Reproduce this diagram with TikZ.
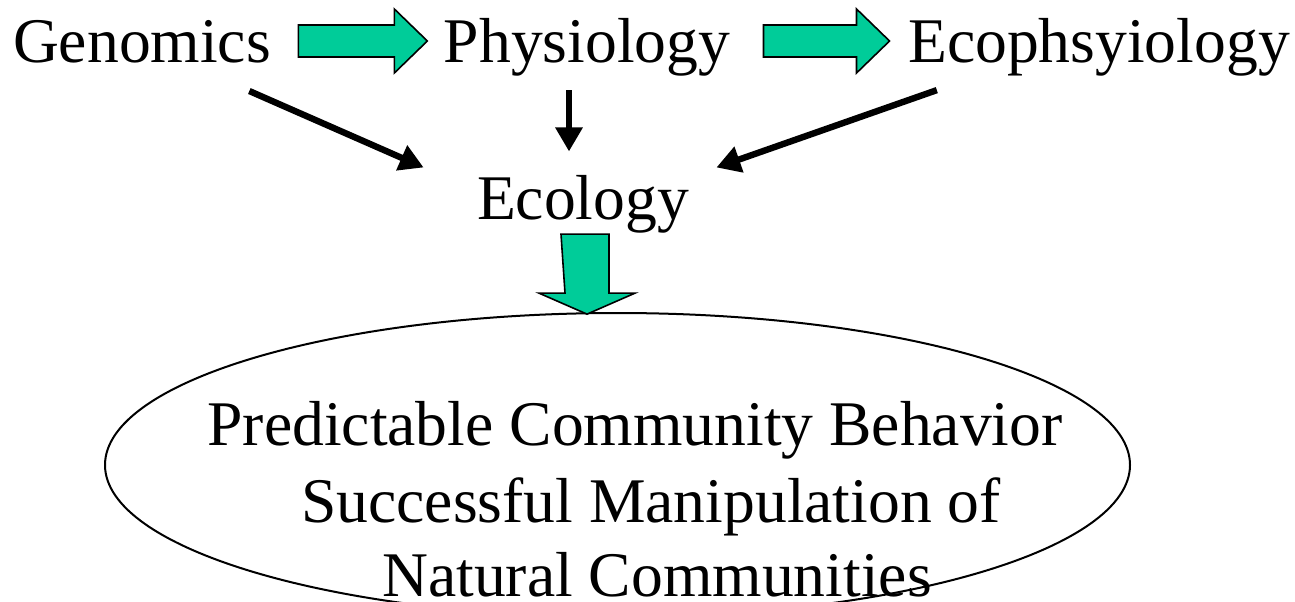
\documentclass[tikz,border=0pt]{standalone}
\usepackage{fontspec}
\setmainfont{Liberation Serif}
\usetikzlibrary{arrows.meta,shapes.geometric}
\definecolor{arrowgreen}{HTML}{00CC99}

\begin{document}
\begin{tikzpicture}[x=0.5pt,y=-0.5pt,
    every node/.style={inner sep=0pt,font=\fontsize{31.8}{38}\selectfont},
    word/.style={anchor=base},
    link/.style={-{Triangle[length=12pt,width=13pt]},line width=3.2pt},
    blockarrow/.style={draw,fill=arrowgreen,line width=0.8pt,line join=miter}]
  \clip (0,0) rectangle (1295,601);
  % top row
  \node[word] (genomics) at (142,62) {Genomics};
  \node[word] (physiology) at (587,62) {Physiology};
  \node[word] (ecophys) at (1099,62) {Ecophsyiology};
  \node[word] (ecology) at (583,219) {Ecology};
  % outcome
  \node[ellipse,draw,line width=1pt,minimum width=512.5pt,minimum height=152pt]
    (outcome) at (617.5,465) {};
  \node[word] (line1) at (635,445) {Predictable Community Behavior};
  \node[word] (line2) at (651,522) {Successful Manipulation of};
  \node[word] (line3) at (657,596) {Natural Communities};
  % green block arrows
  \draw[blockarrow] ([shift={(27,-37)}]genomics.base east) -- ++(96,0) -- ++(0,-16)
    -- ++(33,32) -- ++(-33,32) -- ++(0,-16) -- ++(-96,0) -- cycle;
  \draw[blockarrow] ([shift={(33,-37)}]physiology.base east) -- ++(93,0) -- ++(0,-16)
    -- ++(33,32) -- ++(-33,32) -- ++(0,-16) -- ++(-93,0) -- cycle;
  \draw[blockarrow] ([shift={(-22,1)}]ecology.south) -- ++(48,0) -- ++(0,59)
    -- ++(26,0) -- ++(-48,21) -- ++(-48,-21) -- ++(26,0) -- cycle;
  % black arrows into ecology
  \draw[link] ([shift={(-22,28)}]genomics.south east) -- ([shift={(-53,-7)}]ecology.north west);
  \draw[link] ([shift={(-18,14)}]physiology.south) -- ([shift={(-14,-23)}]ecology.north);
  \draw[link] ([shift={(29,14)}]ecophys.south west) -- ([shift={(27,-7)}]ecology.north east);
\end{tikzpicture}
\end{document}
